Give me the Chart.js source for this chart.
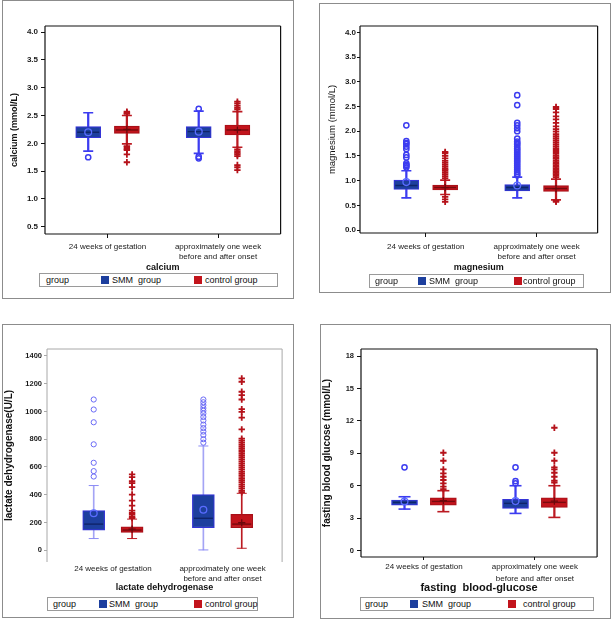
<!DOCTYPE html>
<html>
<head>
<meta charset="utf-8">
<script src="https://cdn.jsdelivr.net/npm/chart.js@4.4.1/dist/chart.umd.min.js"></script>
<style>
  html, body { margin: 0; padding: 0; background: #fff; }
  body { position: relative; width: 614px; height: 619px; overflow: hidden; font-family: "Liberation Sans", Arial, sans-serif; }
  .frame { position: absolute; border: 1.5px solid #8c8c8c; box-sizing: border-box; }
  canvas { position: absolute; }
  .legend { position: absolute; height: 14px; border: 1px solid #9a9a9a; box-sizing: border-box; font-size: 9px; color: #111; background: #fff; }
  .legend span { position: absolute; top: 1px; white-space: pre; line-height: 11px; }
  .legend i { position: absolute; top: 2px; width: 8px; height: 8px; }
</style>
</head>
<body>
<div class="frame" style="left:2px;top:0;width:292px;height:299px"></div>
<div class="frame" style="left:319px;top:3px;width:292px;height:290px"></div>
<div class="frame" style="left:2px;top:324px;width:292px;height:294px"></div>
<div class="frame" style="left:320px;top:324px;width:291px;height:295px"></div>

<canvas id="calcium" width="290" height="296" style="left:3px;top:1px"></canvas>
<canvas id="magnesium" width="290" height="287" style="left:320px;top:4px"></canvas>
<canvas id="ldh" width="290" height="292" style="left:3px;top:325px"></canvas>
<canvas id="glucose" width="289" height="292" style="left:321px;top:325px"></canvas>

<script>
// categories and groups
const categories = [['24 weeks of gestation'], ['approximately one week', 'before and after onset']];
const groupNames = ['SMM  group', 'control group'];

// per time point: [lower whisker, Q1, median, Q3, upper whisker, mean]
const calciumSmm = [[1.86, 2.10, 2.20, 2.30, 2.55, 2.20], [1.82, 2.10, 2.21, 2.30, 2.58, 2.21]];
const calciumSmmOut = [[1.75], [2.62, 1.76, 1.73]];
const calciumCtrl = [[1.99, 2.18, 2.24, 2.31, 2.50, 2.25], [1.93, 2.15, 2.24, 2.33, 2.57, 2.24]];
const calciumCtrlOut = [
  [2.57, 2.55, 2.53, 1.95, 1.93, 1.90, 1.88, 1.80, 1.66],
  [2.75, 2.72, 2.68, 2.64, 2.61, 1.89, 1.86, 1.83, 1.80, 1.77, 1.61, 1.57, 1.52]
];

const magnesiumSmm = [[0.65, 0.82, 0.90, 1.01, 1.20, 0.97], [0.65, 0.79, 0.86, 0.92, 1.07, 0.90]];
const magnesiumSmmOut = [
  [2.12, 1.80, 1.76, 1.74, 1.69, 1.64, 1.52, 1.47, 1.35, 1.32, 1.30, 1.27],
  [2.73, 2.53, 2.17, 2.12, 2.06, 2.00, 1.85, 1.79, 1.76, 1.73, 1.69, 1.65, 1.62, 1.58, 1.54, 1.50,
   1.46, 1.42, 1.38, 1.34, 1.30, 1.26, 1.22, 1.18, 1.14, 1.11]
];
const magnesiumCtrl = [[0.72, 0.81, 0.86, 0.91, 1.01, 0.86], [0.61, 0.78, 0.84, 0.90, 1.03, 0.84]];
const magnesiumCtrlOut = [
  [1.58, 1.55, 1.50, 1.45, 1.40, 1.36, 1.32, 1.28, 1.24, 1.21, 1.17, 1.13, 1.09, 1.05, 0.67, 0.62, 0.57],
  [2.49, 2.45, 2.38, 2.30, 2.24, 2.17, 2.10, 2.04, 1.99, 1.94, 1.90, 1.86, 1.82, 1.78, 1.74, 1.70, 1.66,
   1.62, 1.58, 1.54, 1.50, 1.47, 1.44, 1.40, 1.37, 1.34, 1.31, 1.28, 1.25, 1.22, 1.19, 1.16, 1.13, 1.10,
   1.07, 0.59, 0.57]
];

const ldhSmm = [[84, 145, 188, 285, 466, 266], [2, 162, 230, 401, 751, 292]];
const ldhSmmOut = [
  [1086, 1014, 922, 763, 630, 570, 531],
  [1086, 1066, 1045, 1024, 1005, 985, 960, 935, 905, 880, 855, 830, 800, 775]
];
const ldhCtrl = [[84, 128, 145, 169, 224, 152], [14, 162, 188, 258, 410, 198]];
const ldhCtrlOut = [
  [546, 526, 497, 483, 454, 401, 357, 321, 285, 268, 256, 241, 232],
  [1238, 1214, 1142, 1118, 1086, 1016, 997, 956, 871, 804, 790, 775, 760, 745, 730, 715, 700, 685, 670,
   655, 640, 625, 610, 595, 580, 565, 550, 535, 520, 505, 490, 475, 460, 445, 430, 418]
];

const glucoseSmm = [[3.85, 4.22, 4.47, 4.69, 4.99, 4.55], [3.45, 3.91, 4.38, 4.75, 6.01, 4.59]];
const glucoseSmmOut = [[7.71], [7.71, 6.44, 6.23]];
const glucoseCtrl = [[3.61, 4.22, 4.56, 4.90, 5.55, 4.62], [3.08, 4.01, 4.47, 4.90, 6.01, 4.59]];
const glucoseCtrlOut = [
  [9.06, 8.32, 7.52, 7.15, 6.84, 6.54, 6.23, 5.92, 5.70],
  [11.37, 9.06, 8.32, 7.71, 7.52, 7.21, 6.84, 6.47, 6.29]
];

// y tick labels
const calciumTicks = [0.5, 1.0, 1.5, 2.0, 2.5, 3.0, 3.5, 4.0];
const magnesiumTicks = [0.0, 0.5, 1.0, 1.5, 2.0, 2.5, 3.0, 3.5, 4.0];
const ldhTicks = [0, 200, 400, 600, 800, 1000, 1200, 1400];
const glucoseTicks = [0, 3, 6, 9, 12, 15, 18];

const SHIFT = 0.175; // half distance between SMM and control box within a category

const smmStyle = { fill: '#1d3f9e', edge: '#3434d6', whisker: '#3c3cf0', median: '#0f246a', mark: '#3c3cf0', mean: '#5a6cff', shape: 'circle' };
const ctrlStyle = { fill: '#c2141c', edge: '#a81018', whisker: '#bb1a22', median: '#780a0e', mark: '#b5121a', mean: '#6a080c', shape: 'cross' };

Chart.defaults.font.family = '"Liberation Sans", Arial, sans-serif';
Chart.defaults.color = '#1a1a1a';

const plotFrame = {
  id: 'plotFrame',
  afterDatasetsDraw(chart, args, opts) {
    const { ctx, chartArea: a } = chart;
    ctx.save();
    ctx.strokeStyle = opts.color;
    ctx.lineWidth = opts.width;
    ctx.beginPath();
    if (opts.sides.includes('t')) { ctx.moveTo(a.left, a.top); ctx.lineTo(a.right, a.top); }
    if (opts.sides.includes('r')) { ctx.moveTo(a.right, a.top); ctx.lineTo(a.right, a.bottom); }
    if (opts.sides.includes('b')) { ctx.moveTo(a.left, a.bottom); ctx.lineTo(a.right, a.bottom); }
    if (opts.sides.includes('l')) { ctx.moveTo(a.left, a.top); ctx.lineTo(a.left, a.bottom); }
    ctx.stroke();
    ctx.restore();
  }
};

function boxSeries(name, stats, outliers, st, shift, p) {
  const xs = stats.map((s, i) => i + 1 + shift);
  const isCircle = st.shape === 'circle';
  const markColor = isCircle && p.thin ? '#6a6af5' : st.mark;
  return [
    {
      type: 'scatter', label: name + ' outliers', order: 0,
      data: outliers.flatMap((vals, i) => vals.map(v => ({ x: xs[i], y: v }))),
      pointStyle: st.shape, pointRadius: isCircle ? 2.6 : 3.2,
      pointBorderWidth: isCircle ? (p.thin ? 1 : 1.5) : 1.8,
      pointBorderColor: markColor, pointBackgroundColor: 'rgba(0,0,0,0)'
    },
    {
      type: 'scatter', label: name + ' mean', order: 1,
      data: stats.map((s, i) => ({ x: xs[i], y: s[5] })),
      pointStyle: st.shape, pointRadius: isCircle ? 3.4 : 3.6,
      pointBorderWidth: 1.3, pointBorderColor: st.mean, pointBackgroundColor: 'rgba(0,0,0,0)'
    },
    {
      type: 'scatter', label: name + ' median', order: 2,
      data: stats.map((s, i) => ({ x: xs[i], y: s[2] })),
      pointStyle: 'line', pointRadius: p.boxW / 2 - 1.5,
      pointBorderWidth: 1.4, pointBorderColor: st.median
    },
    {
      type: 'scatter', label: name + ' caps', order: 3,
      data: stats.flatMap((s, i) => [{ x: xs[i], y: s[0] }, { x: xs[i], y: s[4] }]),
      pointStyle: 'line', pointRadius: p.capR,
      pointBorderWidth: p.whiskerW, pointBorderColor: p.thin && isCircle ? '#8c8cf5' : st.whisker
    },
    {
      type: 'bar', label: name, order: 4,
      data: stats.map((s, i) => ({ x: xs[i], y: [s[1], s[3]] })),
      backgroundColor: st.fill, borderColor: st.edge, borderWidth: 1.2, borderSkipped: false,
      grouped: false, barThickness: p.boxW
    },
    {
      type: 'bar', label: name + ' whisker', order: 5,
      data: stats.map((s, i) => ({ x: xs[i], y: [s[0], s[4]] })),
      backgroundColor: p.thin && isCircle ? '#a4a4f5' : st.whisker, borderWidth: 0,
      grouped: false, barThickness: p.whiskerW
    }
  ];
}

function buildLegend(p) {
  const [left, top, width, gx, s1, t1, s2, t2] = p.legend;
  const box = document.createElement('div');
  box.className = 'legend';
  box.style.left = left + 'px';
  box.style.top = top + 'px';
  box.style.width = width + 'px';
  const parts = [
    ['span', gx, 'group'],
    ['i', s1, smmStyle.fill], ['span', t1, groupNames[0]],
    ['i', s2, ctrlStyle.fill], ['span', t2, groupNames[1]]
  ];
  parts.forEach(([tag, x, v]) => {
    const el = document.createElement(tag);
    el.style.left = x + 'px';
    if (tag === 'i') el.style.background = v; else el.textContent = v;
    box.appendChild(el);
  });
  document.body.appendChild(box);
}

function makeBoxChart(p) {
  const [cl, ct, cw, ch] = p.canvas;
  const [pl, pt, pr, pb] = p.plot;
  const datasets = [
    ...boxSeries(groupNames[0], p.smm, p.smmOut, smmStyle, -SHIFT, p),
    ...boxSeries(groupNames[1], p.ctrl, p.ctrlOut, ctrlStyle, SHIFT, p)
  ];
  new Chart(document.getElementById(p.id), {
    type: 'bar',
    data: { datasets },
    plugins: [plotFrame],
    options: {
      responsive: false,
      animation: false,
      events: [],
      layout: { padding: { left: 0, top: pt - ct, right: cl + cw - pr, bottom: ct + ch - pb - p.xH } },
      plugins: {
        legend: { display: false },
        tooltip: { enabled: false },
        plotFrame: p.frame
      },
      scales: {
        x: {
          type: 'linear', min: p.x[0], max: p.x[1], offset: false,
          afterBuildTicks: s => { s.ticks = categories.map((c, i) => ({ value: i + 1 })); },
          afterFit: s => { s.height = p.xH; },
          grid: { offset: false, drawOnChartArea: false, drawTicks: p.xTick > 0, tickLength: p.xTick, color: p.frame.color },
          border: { display: false },
          ticks: {
            callback: (v, i) => categories[i], maxRotation: 0, minRotation: 0, autoSkip: false,
            padding: p.xPad, font: { size: 8, lineHeight: p.xLine }, color: '#1a1a1a'
          },
          title: { display: true, text: p.xTitle, font: p.xTitleFont, color: '#111', padding: { top: 0, bottom: 0 } }
        },
        y: {
          type: 'linear', min: p.y[0], max: p.y[1],
          afterBuildTicks: s => { s.ticks = p.ticks.map(v => ({ value: v })); },
          afterFit: s => { s.width = pl - cl; },
          grid: { drawOnChartArea: false, tickLength: p.yTick, color: p.frame.color },
          border: { display: false },
          ticks: { callback: v => p.fmt(v), padding: p.yPad, font: p.yFont, color: '#1a1a1a' },
          title: { display: true, text: p.yTitle, font: p.yTitleFont, color: '#111', padding: { top: p.yTitlePad, bottom: 0 } }
        }
      }
    }
  });
  buildLegend(p);
}

const panels = [
  {
    id: 'calcium', canvas: [3, 1, 290, 296], plot: [45, 26, 287, 234],
    x: [0.434, 2.566], y: [0.37, 4.11], ticks: calciumTicks, fmt: v => v.toFixed(1),
    smm: calciumSmm, smmOut: calciumSmmOut, ctrl: calciumCtrl, ctrlOut: calciumCtrlOut,
    yTitle: 'calcium (mmol/L)', yTitleFont: { size: 9, weight: 'bold' }, yTitlePad: 6.6,
    xTitle: 'calcium', xTitleFont: { size: 9, weight: 'bold' }, xH: 39,
    xTick: 4, xPad: 3, xLine: 1.35, yTick: 4, yPad: 3, yFont: { size: 8, weight: 'bold' },
    frame: { color: '#111', width: 1.2, sides: 'trbl' }, boxW: 25, whiskerW: 1.6, capR: 5, thin: false,
    legend: [39, 273, 239, 6, 61, 72, 154, 165]
  },
  {
    id: 'magnesium', canvas: [320, 4, 290, 287], plot: [360, 26, 606, 233],
    x: [0.407, 2.55], y: [-0.06, 4.13], ticks: magnesiumTicks, fmt: v => v.toFixed(1),
    smm: magnesiumSmm, smmOut: magnesiumSmmOut, ctrl: magnesiumCtrl, ctrlOut: magnesiumCtrlOut,
    yTitle: 'magnesium (mmol/L)', yTitleFont: { size: 9.5 }, yTitlePad: 6.3,
    xTitle: 'magnesium', xTitleFont: { size: 9, weight: 'bold' }, xH: 40,
    xTick: 4, xPad: 4, xLine: 1.35, yTick: 3, yPad: 1, yFont: { size: 8, weight: 'bold' },
    frame: { color: '#111', width: 1.2, sides: 'trbl' }, boxW: 25, whiskerW: 1.6, capR: 5, thin: false,
    legend: [369, 274, 215, 5, 48, 59, 144, 153]
  },
  {
    id: 'ldh', canvas: [3, 325, 290, 292], plot: [47, 349, 287, 562],
    x: [0.399, 2.543], y: [-85, 1450], ticks: ldhTicks, fmt: v => String(v),
    smm: ldhSmm, smmOut: ldhSmmOut, ctrl: ldhCtrl, ctrlOut: ldhCtrlOut,
    yTitle: 'lactate dehydrogenase(U/L)', yTitleFont: { size: 10, weight: 'bold' }, yTitlePad: 0,
    xTitle: 'lactate dehydrogenase', xTitleFont: { size: 9, weight: 'bold' }, xH: 31,
    xTick: 0, xPad: 1, xLine: 1.35, yTick: 3, yPad: 2, yFont: { size: 7.5, weight: 'bold' },
    frame: { color: '#a8a8a8', width: 1, sides: 'trl' }, boxW: 22, whiskerW: 1, capR: 5, thin: true,
    legend: [47, 597, 211, 5, 51, 61, 146, 157]
  },
  {
    id: 'glucose', canvas: [321, 325, 289, 292], plot: [361, 349, 606, 557],
    x: [0.433, 2.56], y: [-0.58, 18.65], ticks: glucoseTicks, fmt: v => String(v),
    smm: glucoseSmm, smmOut: glucoseSmmOut, ctrl: glucoseCtrl, ctrlOut: glucoseCtrlOut,
    yTitle: 'fasting blood glucose (mmol/L)', yTitleFont: { size: 10, weight: 'bold' }, yTitlePad: 0,
    xTitle: 'fasting  blood-glucose', xTitleFont: { size: 11, weight: 'bold' }, xH: 38,
    xTick: 3, xPad: 1, xLine: 1.5, yTick: 4, yPad: 3, yFont: { size: 7.5, weight: 'bold' },
    frame: { color: '#111', width: 1.2, sides: 'trbl' }, boxW: 26, whiskerW: 1.6, capR: 6, thin: false,
    legend: [360, 597, 234, 4, 49, 61, 147, 162]
  }
];

panels.forEach(makeBoxChart);
</script>
</body>
</html>
